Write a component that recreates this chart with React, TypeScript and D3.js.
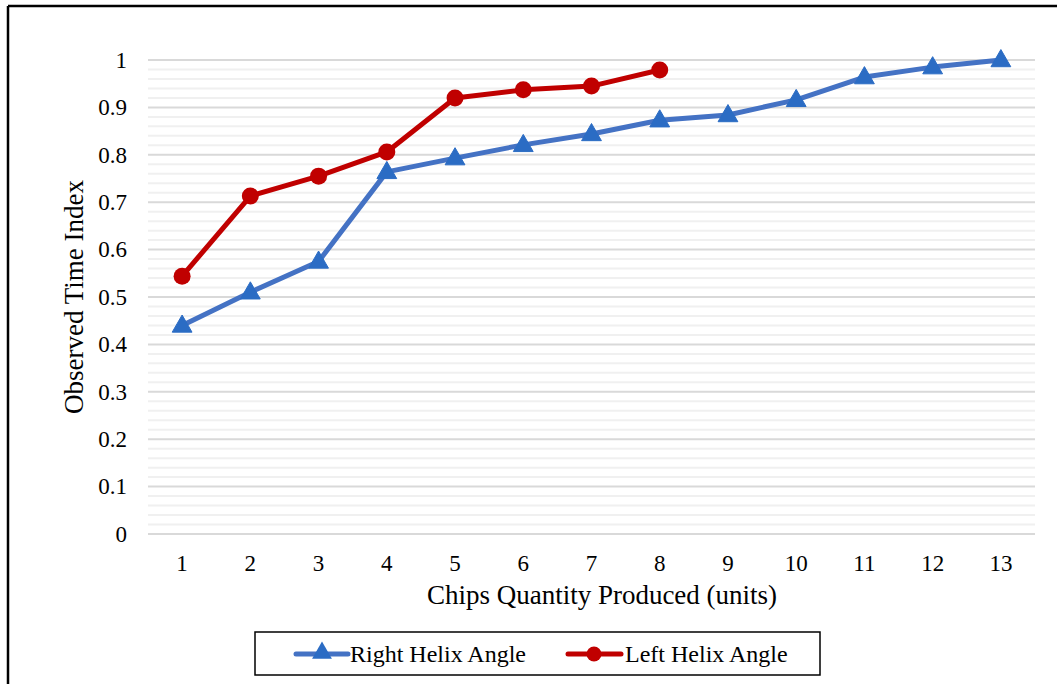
import React from "react";
import * as d3 from "d3";

const categories = [1, 2, 3, 4, 5, 6, 7, 8, 9, 10, 11, 12, 13];
const rightHelix = [0.44, 0.51, 0.575, 0.764, 0.793, 0.821, 0.844, 0.873, 0.884, 0.916, 0.964, 0.985, 1.0];
const leftHelix = [0.544, 0.713, 0.755, 0.806, 0.92, 0.937, 0.945, 0.979];
const yTicks = [0, 0.1, 0.2, 0.3, 0.4, 0.5, 0.6, 0.7, 0.8, 0.9, 1];
const minorTicks = d3.range(0, 51).map((i) => i * 0.02);

const W = 1057;
const H = 684;
const FONT = "'Liberation Serif', 'Times New Roman', serif";
const BLUE = "#4472C4";
const BLUE_MARK = "#2B6CC4";
const RED = "#C00000";

export default function App() {
  const x = d3.scaleBand<number>().domain(categories).range([148, 1035]);
  const y = d3.scaleLinear().domain([0, 1]).range([534, 60]);
  const cx = (c: number) => (x(c) ?? 0) + x.bandwidth() / 2;

  const line = d3
    .line<number>()
    .x((_, i) => cx(categories[i]))
    .y((d) => y(d));

  const tri = d3.symbol().type(d3.symbolTriangle).size(170)() as string;

  return (
    <svg
      width={W}
      height={H}
      style={{ position: "absolute", left: 0, top: 0, background: "#fff" }}
      fontFamily={FONT}
    >
      <rect x={0} y={0} width={W} height={H} fill="#fff" />
      {/* outer frame */}
      <line x1={8} y1={6} x2={W + 5} y2={6} stroke="#000" strokeWidth={2.5} />
      <line x1={8} y1={6} x2={8} y2={H + 5} stroke="#000" strokeWidth={2.5} />

      {/* minor grid */}
      {minorTicks.map((t, i) =>
        i % 5 === 0 ? null : (
          <line key={"m" + i} x1={148} x2={1035} y1={y(t)} y2={y(t)} stroke="#f0f0f0" strokeWidth={2} />
        )
      )}
      {/* major grid */}
      {yTicks.map((t) => (
        <line key={"g" + t} x1={148} x2={1035} y1={y(t)} y2={y(t)} stroke="#d9d9d9" strokeWidth={2} />
      ))}

      {/* y tick labels */}
      {yTicks.map((t) => (
        <text key={"yt" + t} x={127} y={y(t)} dy="0.34em" textAnchor="end" fontSize={23} fill="#000">
          {t === 0 || t === 1 ? String(t) : t.toFixed(1)}
        </text>
      ))}
      {/* x tick labels */}
      {categories.map((c) => (
        <text key={"xt" + c} x={cx(c)} y={571} textAnchor="middle" fontSize={23} fill="#000">
          {c}
        </text>
      ))}

      {/* axis titles */}
      <text x={602} y={604} textAnchor="middle" fontSize={27} fill="#000">
        Chips Quantity Produced (units)
      </text>
      <text
        transform={`translate(83, 297) rotate(-90)`}
        textAnchor="middle"
        fontSize={27}
        fill="#000"
      >
        Observed Time Index
      </text>

      {/* series lines */}
      <path d={line(rightHelix) ?? ""} fill="none" stroke={BLUE} strokeWidth={5} strokeLinejoin="round" />
      <path d={line(leftHelix) ?? ""} fill="none" stroke={RED} strokeWidth={5} strokeLinejoin="round" />

      {rightHelix.map((v, i) => (
        <path key={"rt" + i} d={tri} transform={`translate(${cx(categories[i])}, ${y(v) + 1})`} fill={BLUE_MARK} stroke={BLUE_MARK} strokeWidth={1} />
      ))}
      {leftHelix.map((v, i) => (
        <circle key={"lc" + i} cx={cx(categories[i])} cy={y(v)} r={8.5} fill={RED} />
      ))}

      {/* legend */}
      <rect x={255} y={632} width={565} height={43} fill="#fff" stroke="#000" strokeWidth={1.5} />
      <line x1={296} x2={348} y1={654} y2={654} stroke={BLUE} strokeWidth={5} strokeLinecap="round" />
      <path d={tri} transform="translate(322, 653)" fill={BLUE_MARK} />
      <text x={350} y={662} fontSize={24} fill="#000">Right Helix Angle</text>
      <line x1={568} x2={621} y1={654} y2={654} stroke={RED} strokeWidth={5} strokeLinecap="round" />
      <circle cx={594} cy={654} r={7.5} fill={RED} />
      <text x={625} y={662} fontSize={24} fill="#000">Left Helix Angle</text>
    </svg>
  );
}
